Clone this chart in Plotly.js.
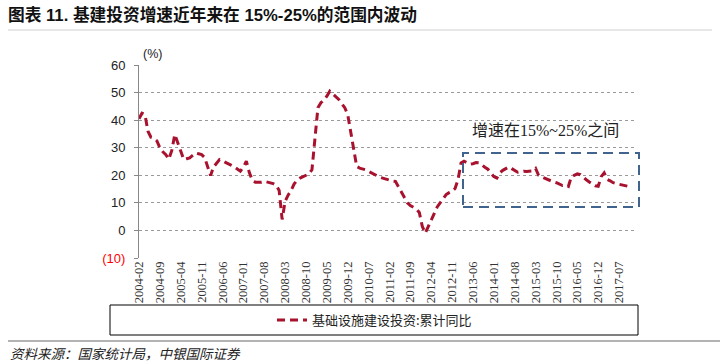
<!DOCTYPE html>
<html>
<head>
<meta charset="utf-8">
<script src="https://cdn.plot.ly/plotly-3.0.1.min.js"></script>
<style>
  html, body { margin: 0; padding: 0; background: #fff; }
  #chart { width: 720px; height: 363px; }
</style>
</head>
<body>
<div id="chart"></div>
<script>
// ---- Data ----
const seriesName = '基础设施建设投资:累计同比';
const startYear = 2004;
const startMonth = 2;
// Monthly cumulative YoY (%) per year; 2004 starts in February
const v2004 = [40.5, 42.5, 42.0, 36.0, 33.8, 33.4, 32.5, 30.0, 28.5, 27.5, 25.8];
const v2005 = [29.0, 34.8, 32.0, 28.5, 25.7, 26.0, 26.3, 27.2, 28.1, 27.8, 27.5, 26.5];
const v2006 = [23.5, 19.9, 23.0, 24.3, 25.7, 25.2, 24.7, 24.3, 23.6, 23.0, 22.4, 21.5];
const v2007 = [23.0, 25.1, 21.0, 18.2, 17.5, 17.4, 17.5, 17.8, 17.6, 17.4, 17.0, 16.4];
const v2008 = [14.5, 4.0, 10.5, 12.8, 14.5, 16.8, 18.2, 19.0, 19.5, 20.0, 20.5, 22.0];
const v2009 = [33.0, 44.5, 46.3, 47.3, 48.7, 50.5, 49.5, 48.5, 47.5, 46.0, 44.5, 42.0];
const v2010 = [35.5, 28.5, 23.2, 22.6, 22.3, 22.0, 21.4, 20.8, 20.3, 19.8, 19.2, 18.9];
const v2011 = [18.5, 18.1, 17.9, 17.8, 15.8, 13.5, 11.5, 10.0, 9.0, 8.4, 7.8, 6.5];
const v2012 = [1.5, -1.0, 1.5, 4.0, 6.0, 8.5, 10.0, 11.5, 13.0, 13.7, 14.2, 15.2];
const v2013 = [18.5, 24.5, 25.1, 24.6, 24.0, 24.2, 24.6, 24.5, 23.6, 22.9, 22.2, 21.0];
const v2014 = [19.5, 19.0, 20.9, 21.8, 22.5, 23.0, 22.4, 21.6, 21.1, 21.3, 21.5, 21.4];
const v2015 = [21.5, 21.6, 22.5, 20.0, 19.4, 18.9, 18.4, 18.0, 17.6, 17.3, 16.8, 16.3];
const v2016 = [16.5, 16.0, 19.5, 20.0, 20.5, 20.2, 19.2, 18.4, 17.6, 16.8, 16.2, 16.0];
const v2017 = [19.5, 20.9, 18.5, 18.0, 17.3, 17.0, 16.7, 16.4, 16.1, 16.0, 15.9, null];
const yearly = [v2004, v2005, v2006, v2007, v2008, v2009, v2010, v2011, v2012, v2013, v2014, v2015, v2016, v2017];

const tickLabels = ['2004-02','2004-09','2005-04','2005-11','2006-06','2007-01','2007-08',
  '2008-03','2008-10','2009-05','2009-12','2010-07','2011-02','2011-09','2012-04',
  '2012-11','2013-06','2014-01','2014-08','2015-03','2015-10','2016-05','2016-12','2017-07'];
const yTicks = [-10, 0, 10, 20, 30, 40, 50, 60];
const yTickText = ['<span style="color:#ff0000">(10)</span>', '0', '10', '20', '30', '40', '50', '60'];

const titleText = '<b>图表 11. 基建投资增速近年来在 15%-25%的范围内波动</b>';
const boxNote = '增速在15%~25%之间';
const sourceText = '资料来源：国家统计局，中银国际证券';
const unitText = '(%)';

// ---- Build series ----
const months = [];
const values = [];
yearly.forEach((arr, k) => {
  const yr = startYear + k;
  const m0 = (k === 0) ? startMonth : 1;
  arr.forEach((v, j) => {
    const m = m0 + j;
    months.push(yr + '-' + String(m).padStart(2, '0'));
    values.push(v);
  });
});
const tickIdx = tickLabels.map(l => months.indexOf(l));

// ---- Layout geometry helpers (pixels -> paper) ----
const W = 720, H = 363;
const M = { l: 139, r: 86, t: 65, b: 105 };
const PW = W - M.l - M.r, PH = H - M.t - M.b;
const PX = px => (px - M.l) / PW;
const PY = py => (H - M.b - py) / PH;

const cjk = 'Noto Sans CJK SC';
const lineColor = '#A8122E';
const boxColor = '#41648F';

const trace = {
  type: 'scatter',
  mode: 'lines',
  x: months,
  y: values,
  name: seriesName,
  line: { color: lineColor, width: 3, dash: '8px,5px' },
  connectgaps: false,
  hoverinfo: 'x+y'
};

const layout = {
  width: W, height: H,
  margin: M,
  paper_bgcolor: '#fff',
  plot_bgcolor: '#fff',
  showlegend: true,
  title: {
    text: titleText,
    xref: 'container', yref: 'container',
    x: 8 / W, xanchor: 'left',
    y: 1 - 15 / H, yanchor: 'middle',
    font: { family: 'Liberation Sans, ' + cjk, size: 16.7, color: '#111' }
  },
  xaxis: {
    type: 'category',
    range: [0, months.length - 1],
    tickmode: 'array',
    tickvals: tickLabels,
    ticktext: tickLabels,
    tickangle: -90,
    ticks: '',
    showline: false,
    showgrid: false,
    zeroline: false,
    tickfont: { family: 'Liberation Serif', size: 12.5, color: '#333' }
  },
  xaxis2: {
    overlaying: 'x',
    anchor: 'free',
    position: (0 - yTicks[0]) / (yTicks[yTicks.length - 1] - yTicks[0]),
    type: 'linear',
    range: [0, months.length - 1],
    tickmode: 'array',
    tickvals: tickIdx,
    ticks: 'outside',
    ticklen: 5,
    tickwidth: 1,
    tickcolor: '#888',
    showline: true,
    linecolor: '#888',
    linewidth: 1,
    showticklabels: false,
    showgrid: false,
    zeroline: false
  },
  yaxis: {
    range: [yTicks[0], yTicks[yTicks.length - 1]],
    tickmode: 'array',
    tickvals: yTicks,
    ticktext: yTickText,
    ticks: 'outside',
    ticklen: 4,
    tickcolor: '#888',
    ticklabelstandoff: 6,
    showline: true,
    linecolor: '#888',
    linewidth: 1,
    showgrid: true,
    gridcolor: '#9a9a9a',
    griddash: 'dot',
    gridwidth: 1,
    zeroline: false,
    tickfont: { family: 'Liberation Sans', size: 13, color: '#222' }
  },
  legend: {
    orientation: 'h',
    x: PX(272), xanchor: 'left',
    y: PY(320), yanchor: 'middle',
    bgcolor: 'rgba(0,0,0,0)',
    font: { family: cjk, size: 13, color: '#222' }
  },
  shapes: [
    // line under the title
    { type: 'line', xref: 'paper', yref: 'paper', x0: PX(8), x1: PX(712), y0: PY(30), y1: PY(30),
      line: { color: '#cfcfcf', width: 1 } },
    // dashed highlight box
    { type: 'rect', xref: 'paper', yref: 'paper', x0: PX(463), x1: PX(639), y0: PY(207), y1: PY(153),
      line: { color: boxColor, width: 2, dash: '10px,6px' }, fillcolor: 'rgba(0,0,0,0)' },
    // legend frame
    { type: 'rect', xref: 'paper', yref: 'paper', x0: PX(110), x1: PX(638), y0: PY(335), y1: PY(305),
      line: { color: '#000', width: 1 }, fillcolor: 'rgba(0,0,0,0)' },
    // line above the source
    { type: 'line', xref: 'paper', yref: 'paper', x0: PX(8), x1: PX(720), y0: PY(341), y1: PY(341),
      line: { color: '#9a9a9a', width: 1.5 } }
  ],
  annotations: [
    { text: unitText, xref: 'paper', yref: 'paper', x: PX(152), y: PY(54),
      xanchor: 'center', yanchor: 'middle', showarrow: false,
      font: { family: 'Liberation Sans', size: 12.5, color: '#222' } },
    { text: boxNote, xref: 'paper', yref: 'paper', x: PX(545), y: PY(130),
      xanchor: 'center', yanchor: 'middle', showarrow: false,
      font: { family: 'Liberation Serif, ' + cjk, size: 16, color: '#222' } },
    { text: sourceText, xref: 'paper', yref: 'paper', x: PX(8), y: PY(353),
      xanchor: 'left', yanchor: 'middle', showarrow: false,
      font: { family: cjk, size: 13.5, color: '#222', style: 'italic' } }
  ]
};

Plotly.newPlot('chart', [trace], layout, { displayModeBar: false, staticPlot: true });
</script>
</body>
</html>
